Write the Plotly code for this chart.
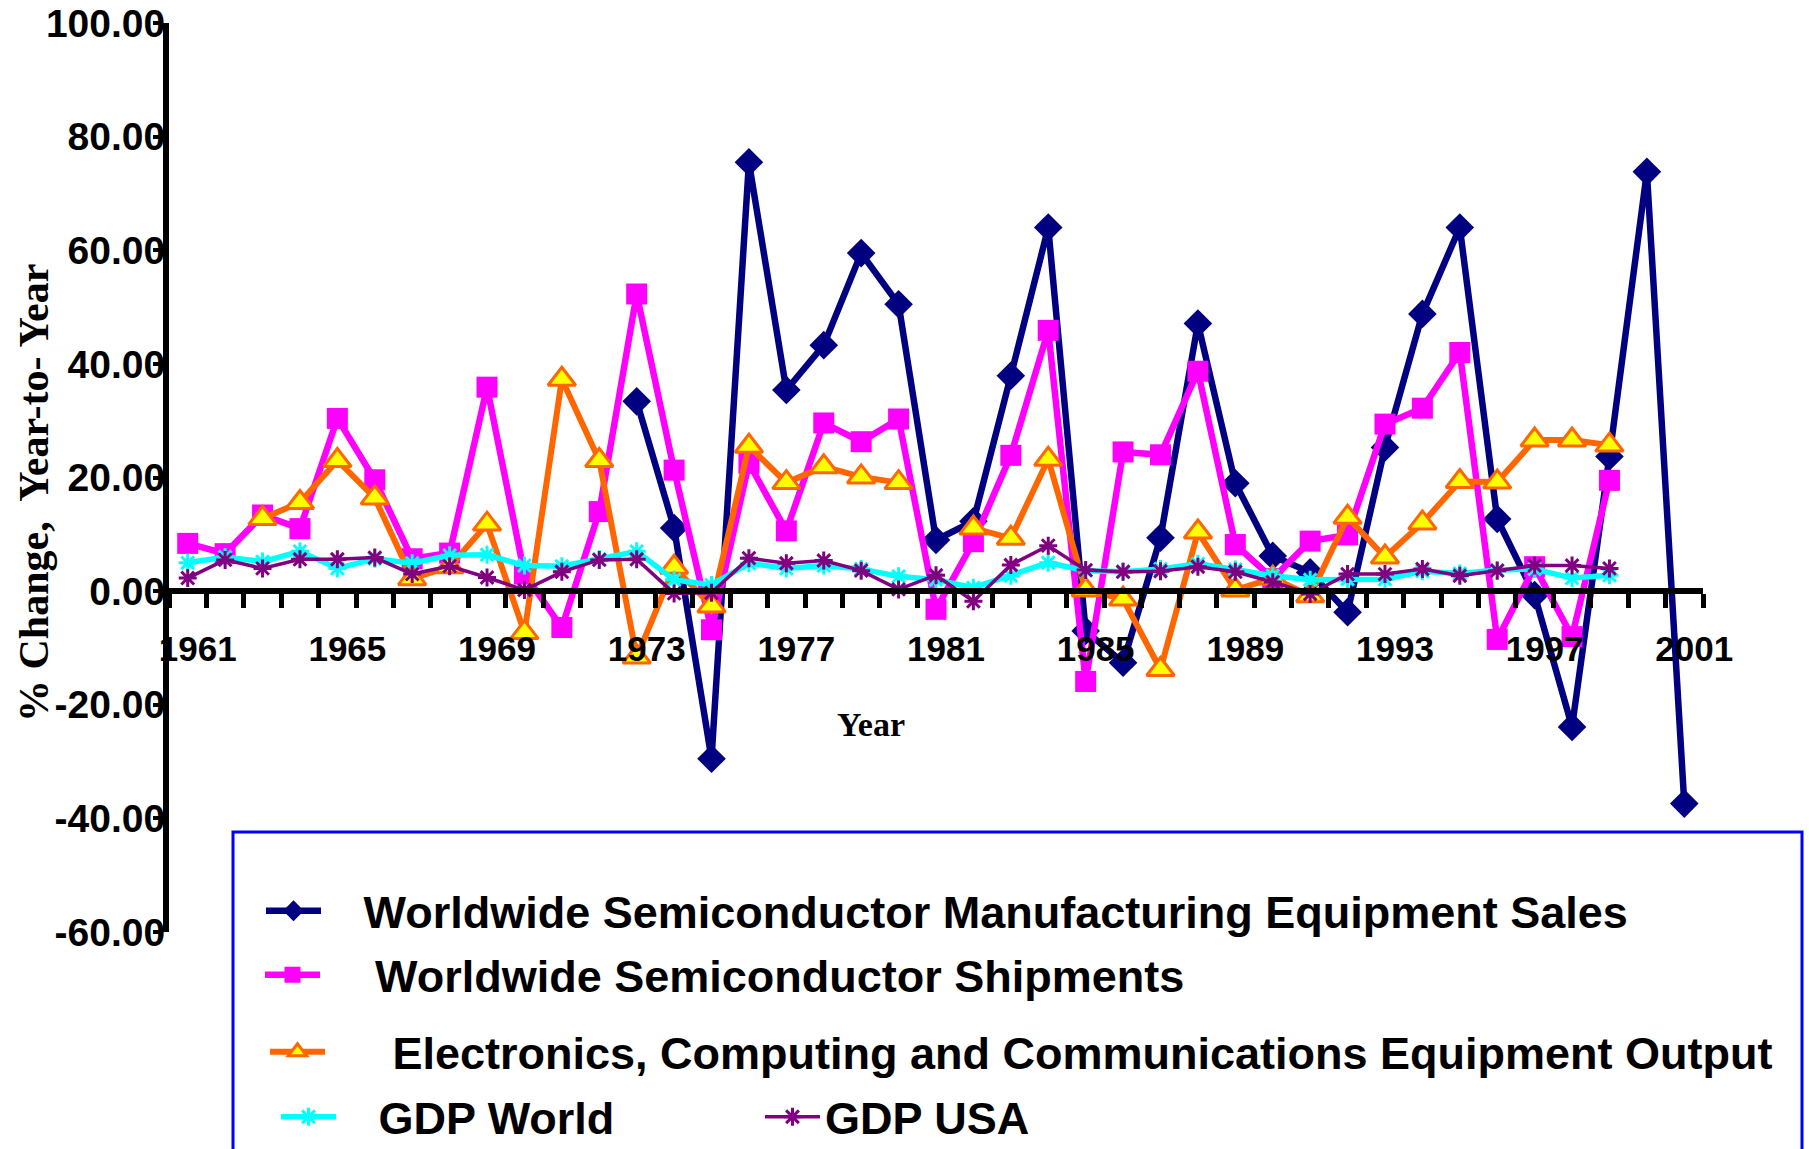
import plotly.graph_objects as go

W, H = 1809, 1149
ML, MR, MT, MB = 169, 106, 23, 217
PW, PH = W - ML - MR, H - MT - MB

years = list(range(1961, 2002))
tick_years = [1961, 1965, 1969, 1973, 1977, 1981, 1985, 1989, 1993, 1997, 2001]
tick_labels = [str(y) for y in tick_years]
y_ticks = [-60, -40, -20, 0, 20, 40, 60, 80, 100]
y_tick_labels = ["-60.00", "-40.00", "-20.00", "0.00", "20.00", "40.00", "60.00", "80.00", "100.00"]

N = None
equip_sales = [N]*12 + [33.4, 11.1, -29.5, 75.5, 35.4, 43.3, 59.5, 50.5, 9.0, 12.3,
                        37.9, 64.0, -7.0, -12.6, 9.4, 47.1, 19.0, 6.2, 3.3, -3.7,
                        25.3, 48.8, 64.0, 12.7, -0.7, -23.9, 23.7, 73.8, -37.4]
shipments = [8.4, 6.6, 13.4, 11.0, 30.4, 19.6, 5.7, 6.7, 35.9, 3.0,
             -6.4, 14.0, 52.3, 21.3, -6.8, 22.5, 10.6, 29.6, 26.3, 30.3,
             -3.2, 8.7, 23.9, 45.9, -15.9, 24.5, 24.0, 38.7, 8.2, 2.2,
             8.8, 9.9, 29.4, 32.2, 42.0, -8.5, 4.3, -8.0, 19.5, N, N]
electronics = [N, N, 12.8, 15.6, 23.0, 16.4, 2.2, 4.3, 11.8, -7.3,
               37.3, 23.0, -11.6, 4.2, -2.6, 25.5, 19.1, 21.9, 20.1, 19.1,
               N, 11.1, 9.3, 23.2, 0.2, -1.4, -13.8, 10.4, 0.2, 2.3,
               -0.8, 13.0, 6.0, 12.0, 19.3, 19.2, 26.6, 26.6, 25.7, N, N]
gdp_world = [5.0, 6.0, 5.2, 7.0, 4.0, 5.7, 4.9, 6.3, 6.4, 4.5,
             4.4, 5.6, 7.0, 2.0, 1.1, 4.9, 4.0, 4.5, 3.9, 2.6,
             2.0, 0.6, 2.7, 5.0, 3.6, 3.4, 3.9, 4.8, 3.8, 2.7,
             2.0, 2.1, 2.1, 3.5, 3.1, 3.7, 3.9, 2.3, 2.8, N, N]
gdp_usa = [2.3, 5.5, 4.0, 5.6, 5.6, 5.9, 3.0, 4.4, 2.4, 0.2,
           3.4, 5.5, 5.6, -0.4, -0.3, 5.8, 4.9, 5.4, 3.6, 0.3,
           2.8, -1.8, 4.6, 8.0, 3.7, 3.4, 3.5, 4.3, 3.4, 1.6,
           -0.5, 3.0, 3.0, 3.9, 2.7, 3.6, 4.5, 4.5, 4.0, N, N]

NB = "\u00a0"
names = [NB*3 + "Worldwide Semiconductor Manufacturing Equipment Sales",
         NB*4 + "Worldwide Semiconductor Shipments",
         NB*5 + "Electronics, Computing and Communications Equipment Output",
         NB*3 + "GDP World",
         "GDP USA"]

fig = go.Figure()
fig.add_trace(go.Scatter(x=years, y=equip_sales, name=names[0], mode="lines+markers",
                         line=dict(color="#000080", width=6.5),
                         marker=dict(symbol="diamond", size=22, color="#000080"),
                         legend="legend"))
fig.add_trace(go.Scatter(x=years, y=shipments, name=names[1], mode="lines+markers",
                         line=dict(color="#FF00FF", width=6.5),
                         marker=dict(symbol="square", size=21, color="#FF00FF"),
                         legend="legend2"))
fig.add_trace(go.Scatter(x=years, y=electronics, name=names[2], mode="lines+markers",
                         line=dict(color="#FF6600", width=6),
                         marker=dict(symbol="triangle-up", size=24, color="#FFFF00",
                                     line=dict(color="#FF6600", width=3)),
                         legend="legend3"))
fig.add_trace(go.Scatter(x=years, y=gdp_world, name=names[3], mode="lines+markers",
                         line=dict(color="#00FFFF", width=5.5),
                         marker=dict(symbol="asterisk-open", size=15,
                                     line=dict(color="#00FFFF", width=3)),
                         legend="legend4"))
fig.add_trace(go.Scatter(x=years, y=gdp_usa, name=names[4], mode="lines+markers",
                         line=dict(color="#800080", width=3.5),
                         marker=dict(symbol="asterisk-open", size=15,
                                     line=dict(color="#800080", width=3)),
                         legend="legend5"))

LFONT = dict(family="Liberation Sans, Arial", size=45, color="black", weight="bold")

def cx(px):
    return px / W

def cy(py):
    return 1 - py / H

def leg(px, py):
    return dict(x=cx(px), y=cy(py), xref="container", yref="container",
                xanchor="left", yanchor="middle", font=LFONT,
                bgcolor="rgba(0,0,0,0)", borderwidth=0, itemwidth=55)

def paper_x(px):
    return (px - ML) / PW

def paper_y(py):
    return (H - MB - py) / PH

fig.update_layout(
    width=W, height=H,
    margin=dict(l=ML, r=MR, t=MT, b=MB, autoexpand=False),
    paper_bgcolor="white", plot_bgcolor="white",
    showlegend=True,
    legend=leg(261, 911),
    legend2=leg(260, 975),
    legend3=leg(265, 1052),
    legend4=leg(276, 1117),
    legend5=leg(760, 1117),
    xaxis=dict(range=[1960.5, 2001.5], anchor="free", position=60/160,
               showline=True, linewidth=6, linecolor="black",
               showgrid=False, zeroline=False,
               tickmode="array", tickvals=tick_years, ticktext=tick_labels,
               ticks="", ticklabelstandoff=25, ticklabelshift=10,
               tickfont=dict(family="Liberation Sans, Arial", size=35, color="black", weight="bold"),
               minor=dict(tick0=1960.5, dtick=1, ticks="outside", ticklen=14,
                          tickwidth=5, tickcolor="black", showgrid=False)),
    yaxis=dict(range=[-60, 100], tickmode="array", tickvals=y_ticks, ticktext=y_tick_labels,
               showline=True, linewidth=6, linecolor="black",
               showgrid=False, zeroline=False, ticks="outside", ticklen=10,
               tickwidth=4, tickcolor="black", ticklabelstandoff=-20,
               tickfont=dict(family="Liberation Sans, Arial", size=39, color="black", weight="bold")),
    shapes=[dict(type="rect", xref="paper", yref="paper",
                 x0=paper_x(233), x1=paper_x(1802), y0=paper_y(1170), y1=paper_y(832),
                 line=dict(color="#0000FF", width=3), fillcolor="rgba(0,0,0,0)", layer="above")],
    annotations=[
        dict(text="% Change,  Year-to- Year", textangle=-90, xref="paper", yref="paper",
             x=paper_x(34), y=paper_y(493), showarrow=False, xanchor="center", yanchor="middle",
             font=dict(family="Liberation Serif, Times New Roman", size=42, color="black", weight="bold")),
        dict(text="Year", xref="paper", yref="paper", x=paper_x(871), y=paper_y(724),
             showarrow=False, xanchor="center", yanchor="middle",
             font=dict(family="Liberation Serif, Times New Roman", size=34, color="black", weight="bold")),
    ],
)

fig.write_html("out.html", config={"displayModeBar": False},
               post_script="document.body.style.margin='0px';")
